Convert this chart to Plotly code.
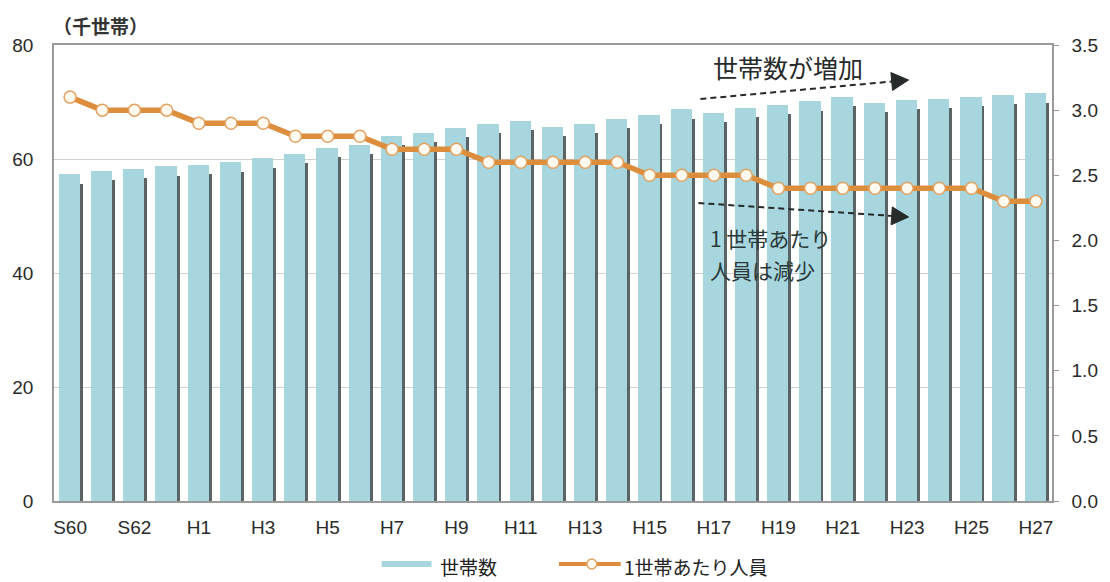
import plotly.graph_objects as go

# 年次（昭和60年〜平成27年）
years = ["S60", "S61", "S62", "S63"] + [f"H{i}" for i in range(1, 28)]

# 世帯数（千世帯）
households = [
    57.3, 57.9, 58.2, 58.7, 58.9, 59.4, 60.1, 60.9, 62.0, 62.5,
    64.0, 64.6, 65.4, 66.1, 66.7, 65.6, 66.1, 67.0, 67.8, 68.7,
    68.1, 68.9, 69.5, 70.1, 70.9, 69.8, 70.4, 70.5, 70.9, 71.2,
    71.5,
]

# 1世帯あたり人員（人）
persons_per_household = [
    3.1, 3.0, 3.0, 3.0, 2.9, 2.9, 2.9, 2.8, 2.8, 2.8,
    2.7, 2.7, 2.7, 2.6, 2.6, 2.6, 2.6, 2.6, 2.5, 2.5,
    2.5, 2.5, 2.4, 2.4, 2.4, 2.4, 2.4, 2.4, 2.4, 2.3,
    2.3,
]

left_ticks = [0, 20, 40, 60, 80]
right_ticks = [0.0, 0.5, 1.0, 1.5, 2.0, 2.5, 3.0, 3.5]
shown_year_labels = years[::2]

W, H = 1110, 582
ML, MR, MT, MB = 53, 55, 45, 81
PW, PH = W - ML - MR, H - MT - MB

JP = "Noto Sans CJK JP, Liberation Sans, sans-serif"
NUM = "Liberation Sans, Arial, sans-serif"
BAR_COLOR = "#a8d6de"
BAR_SIDE = "#5a6464"
LINE_COLOR = "#dc8e3c"
MARKER_EDGE = "#e3a262"
MARKER_FILL = "#fffaf0"
INK = "#262a2a"


def px(x):
    return (x - ML) / PW


def py(y):
    return (H - MB - y) / PH


fig = go.Figure()

# 棒の右側面（立体感）
fig.add_trace(go.Bar(
    x=years, y=[v - 1.6 for v in households],
    width=0.10, offset=0.30,
    marker=dict(color=BAR_SIDE, line=dict(width=0)),
    showlegend=False, hoverinfo="skip",
))

# 世帯数
fig.add_trace(go.Bar(
    x=years, y=households, name="世帯数",
    width=0.66, offset=-0.35,
    marker=dict(color=BAR_COLOR, line=dict(width=0)),
    showlegend=False,
))

# 1世帯あたり人員
fig.add_trace(go.Scatter(
    x=years, y=persons_per_household, name="1世帯あたり人員",
    yaxis="y2", mode="lines+markers",
    line=dict(color=LINE_COLOR, width=5.5),
    marker=dict(symbol="circle", size=12, color=MARKER_FILL,
                line=dict(color=MARKER_EDGE, width=1.5)),
    showlegend=False,
))

shapes = []
annotations = []


def dashed_arrow(x0, y0, x1, y1, head_len=17, half_w=9):
    dx, dy = x1 - x0, y1 - y0
    n = (dx * dx + dy * dy) ** 0.5
    ux, uy = dx / n, dy / n
    bx, by = x1 - ux * head_len, y1 - uy * head_len
    shapes.append(dict(
        type="line", xref="paper", yref="paper",
        x0=px(x0), y0=py(y0), x1=px(bx), y1=py(by),
        line=dict(color=INK, width=2, dash="6px,4px"),
    ))
    pts = [(x1, y1), (bx - uy * half_w, by + ux * half_w),
           (bx + uy * half_w, by - ux * half_w)]
    path = "M " + " L ".join(f"{px(a):.5f},{py(b):.5f}" for a, b in pts) + " Z"
    shapes.append(dict(
        type="path", xref="paper", yref="paper", path=path,
        fillcolor=INK, line=dict(color=INK, width=1),
    ))


dashed_arrow(702, 99, 911, 80)
dashed_arrow(700, 203, 911, 217)


def label(text, x, y, size, anchor="left", color=INK, family=JP):
    annotations.append(dict(
        text=text, xref="paper", yref="paper", x=px(x), y=py(y),
        xanchor=anchor, yanchor="middle", showarrow=False, align="left",
        font=dict(family=family, size=size, color=color),
    ))


label("<b>（千世帯）</b>", 50, 25, 19, color="#333")
label("世帯数が増加", 790, 67, 25, anchor="center")
label("1 世帯あたり", 710, 238, 21, color="#2a3a3a")
label("人員は減少", 710, 270, 21, color="#2a3a3a")

# 凡例
shapes.append(dict(
    type="line", xref="paper", yref="paper",
    x0=px(382), y0=py(564), x1=px(432), y1=py(564),
    line=dict(color=BAR_COLOR, width=6),
))
label("世帯数", 439, 566, 19, color="#222")
shapes.append(dict(
    type="line", xref="paper", yref="paper",
    x0=px(560), y0=py(564), x1=px(622), y1=py(564),
    line=dict(color=LINE_COLOR, width=4),
))
shapes.append(dict(
    type="circle", xref="paper", yref="paper",
    x0=px(588), y0=py(569), x1=px(598), y1=py(559),
    fillcolor=MARKER_FILL, line=dict(color=MARKER_EDGE, width=1.5),
))
label("1世帯あたり人員", 623, 566, 19, color="#222")

fig.update_layout(
    width=W, height=H, autosize=False,
    margin=dict(l=ML, r=MR, t=MT, b=MB, pad=0),
    paper_bgcolor="white", plot_bgcolor="white",
    barmode="overlay", bargap=0, showlegend=False,
    shapes=shapes, annotations=annotations,
    xaxis=dict(
        type="category", categoryorder="array", categoryarray=years,
        range=[-0.5, len(years) - 0.5],
        tickmode="array", tickvals=shown_year_labels, ticktext=shown_year_labels,
        tickfont=dict(family=NUM, size=19, color="#2a2a2a"),
        ticks="", ticklabelstandoff=8,
        showline=True, linecolor="#9a9a9a", linewidth=1.5, mirror=True,
        showgrid=False, zeroline=False,
    ),
    yaxis=dict(
        range=[0, 80], tickmode="array", tickvals=left_ticks,
        tickfont=dict(family=NUM, size=19, color="#2a2a2a"),
        ticks="", ticklabelstandoff=15,
        showline=True, linecolor="#9a9a9a", linewidth=1.5, mirror=False,
        showgrid=True, gridcolor="#cfcfcf", gridwidth=1, zeroline=False,
    ),
    yaxis2=dict(
        overlaying="y", side="right", range=[0, 3.5],
        tickmode="array", tickvals=right_ticks, tickformat=".1f",
        tickfont=dict(family=NUM, size=19, color="#2a2a2a"),
        ticks="outside", ticklen=5, tickcolor="#9a9a9a",
        ticklabelstandoff=9,
        showline=True, linecolor="#9a9a9a", linewidth=1.5,
        showgrid=False, zeroline=False,
    ),
)

fig.write_html("out.html")
